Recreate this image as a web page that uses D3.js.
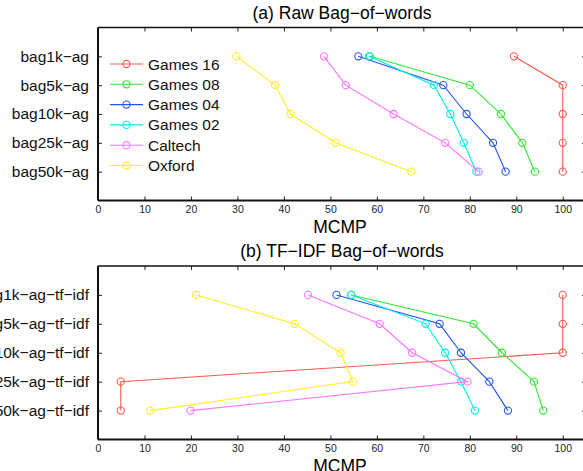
<!DOCTYPE html>
<html>
<head>
<meta charset="utf-8">
<script src="https://cdn.jsdelivr.net/npm/d3@7"></script>
<style>
  body { margin: 0; background: #fff; }
  svg { display: block; font-family: "Liberation Sans", Arial, Helvetica, sans-serif; }
</style>
</head>
<body>
<svg id="chart" width="583" height="471"></svg>
<script>
// data
var seriesNames = ["Games 16", "Games 08", "Games 04", "Games 02", "Caltech", "Oxford"];
var seriesColors = ["#ff5a4c", "#33e633", "#2355ea", "#00eded", "#ff73ff", "#ffee22"];

var rawCats = ["bag1k\u2212ag", "bag5k\u2212ag", "bag10k\u2212ag", "bag25k\u2212ag", "bag50k\u2212ag"];
var tfidfCats = ["bag1k\u2212ag\u2212tf\u2212idf", "bag5k\u2212ag\u2212tf\u2212idf", "bag10k\u2212ag\u2212tf\u2212idf",
                 "bag25k\u2212ag\u2212tf\u2212idf", "bag50k\u2212ag\u2212tf\u2212idf"];

var rawGames16 = [89.5, 100, 100, 100, 100];
var rawGames08 = [58.5, 80.0, 86.7, 91.3, 94.0];
var rawGames04 = [56.0, 74.3, 79.3, 85.0, 87.7];
var rawGames02 = [58.3, 72.3, 75.8, 78.7, 81.4];
var rawCaltech = [48.6, 53.3, 63.6, 74.7, 81.9];
var rawOxford  = [29.8, 38.1, 41.4, 51.1, 67.4];

var tfGames16 = [100, 100, 100, 4.9, 4.9];
var tfGames08 = [54.5, 80.8, 86.9, 93.8, 95.8];
var tfGames04 = [51.3, 73.5, 78.1, 84.2, 88.2];
var tfGames02 = [54.5, 70.5, 74.7, 78.1, 81.1];
var tfCaltech = [45.2, 60.6, 67.6, 79.5, 19.9];
var tfOxford  = [21.1, 42.3, 52.2, 54.8, 11.2];

var xTicks = [0, 10, 20, 30, 40, 50, 60, 70, 80, 90, 100];

var svg = d3.select("#chart");

var x = d3.scaleLinear().domain([0, 105]).range([98, 586]);

function drawPanel(opts) {
  var y = d3.scalePoint().domain(opts.cats).range([opts.top, opts.bottom]).padding(1);
  var g = svg.append("g");

  // title
  g.append("text")
    .attr("x", (x.range()[0] + x.range()[1]) / 2)
    .attr("y", opts.top - 9)
    .attr("text-anchor", "middle")
    .style("font-size", "17.5px")
    .text(opts.title);

  // axes, ticks pointing inward
  g.append("g")
    .attr("transform", "translate(0," + opts.bottom + ")")
    .call(d3.axisBottom(x).tickValues(xTicks).tickSize(-4).tickPadding(5.5))
    .call(function(a) {
      a.select(".domain").remove();
      a.selectAll("text").style("font-size", "10.5px").attr("fill", "#222");
    });
  g.append("g")
    .attr("transform", "translate(0," + opts.top + ")")
    .call(d3.axisTop(x).tickValues(xTicks).tickSize(-4).tickFormat(""))
    .call(function(a) { a.select(".domain").remove(); });
  g.append("g")
    .attr("transform", "translate(" + x.range()[0] + ",0)")
    .call(d3.axisLeft(y).tickSize(-4).tickPadding(9))
    .call(function(a) {
      a.select(".domain").remove();
      a.selectAll("text").style("font-size", "15.5px").attr("fill", "#111");
    });
  g.append("g")
    .attr("transform", "translate(" + x.range()[1] + ",0)")
    .call(d3.axisRight(y).tickSize(-4).tickFormat(""))
    .call(function(a) { a.select(".domain").remove(); });

  g.selectAll(".tick line").attr("stroke", "#222");

  // box
  g.append("line").attr("x1", x.range()[0]).attr("x2", x.range()[1])
    .attr("y1", opts.top).attr("y2", opts.top).attr("stroke", "#111").attr("stroke-width", 1.5);
  g.append("line").attr("x1", x.range()[0]).attr("x2", x.range()[1])
    .attr("y1", opts.bottom).attr("y2", opts.bottom).attr("stroke", "#111").attr("stroke-width", 2);
  g.append("line").attr("x1", x.range()[0]).attr("x2", x.range()[0])
    .attr("y1", opts.top).attr("y2", opts.bottom).attr("stroke", "#111").attr("stroke-width", 2);

  // x label
  g.append("text")
    .attr("x", (x.range()[0] + x.range()[1]) / 2 - 2)
    .attr("y", opts.bottom + 32)
    .attr("text-anchor", "middle")
    .style("font-size", "17.5px")
    .text("MCMP");

  var line = d3.line()
    .x(function(d) { return x(d.v); })
    .y(function(d) { return y(d.c); });

  opts.series.forEach(function(vals, i) {
    var pts = vals.map(function(v, j) { return { v: v, c: opts.cats[j] }; });
    var s = g.append("g");
    s.append("path")
      .attr("d", line(pts))
      .attr("fill", "none")
      .attr("stroke", seriesColors[i])
      .attr("stroke-width", 1.1);
    s.selectAll("circle")
      .data(pts)
      .enter()
      .append("circle")
      .attr("cx", function(d) { return x(d.v); })
      .attr("cy", function(d) { return y(d.c); })
      .attr("r", 3.6)
      .attr("fill", "none")
      .attr("stroke", seriesColors[i])
      .attr("stroke-width", 1.1);
  });

  return g;
}

drawPanel({
  title: "(a) Raw Bag\u2212of\u2212words",
  cats: rawCats,
  top: 27.5,
  bottom: 200.5,
  series: [rawGames16, rawGames08, rawGames04, rawGames02, rawCaltech, rawOxford]
});

drawPanel({
  title: "(b) TF\u2212IDF Bag\u2212of\u2212words",
  cats: tfidfCats,
  top: 266,
  bottom: 439.5,
  series: [tfGames16, tfGames08, tfGames04, tfGames02, tfCaltech, tfOxford]
});

// legend inside the top panel
var legend = svg.append("g").attr("transform", "translate(110,64)");
seriesNames.forEach(function(name, i) {
  var row = legend.append("g").attr("transform", "translate(0," + (i * 20.3) + ")");
  row.append("line").attr("x1", 0).attr("x2", 33).attr("y1", 0).attr("y2", 0)
    .attr("stroke", seriesColors[i]).attr("stroke-width", 1.1);
  row.append("circle").attr("cx", 16.5).attr("cy", 0).attr("r", 3.6)
    .attr("fill", "none").attr("stroke", seriesColors[i]).attr("stroke-width", 1.1);
  row.append("text").attr("x", 38).attr("y", 0).attr("dy", "0.36em")
    .style("font-size", "15.5px").attr("fill", "#111").text(name);
});
</script>
</body>
</html>
